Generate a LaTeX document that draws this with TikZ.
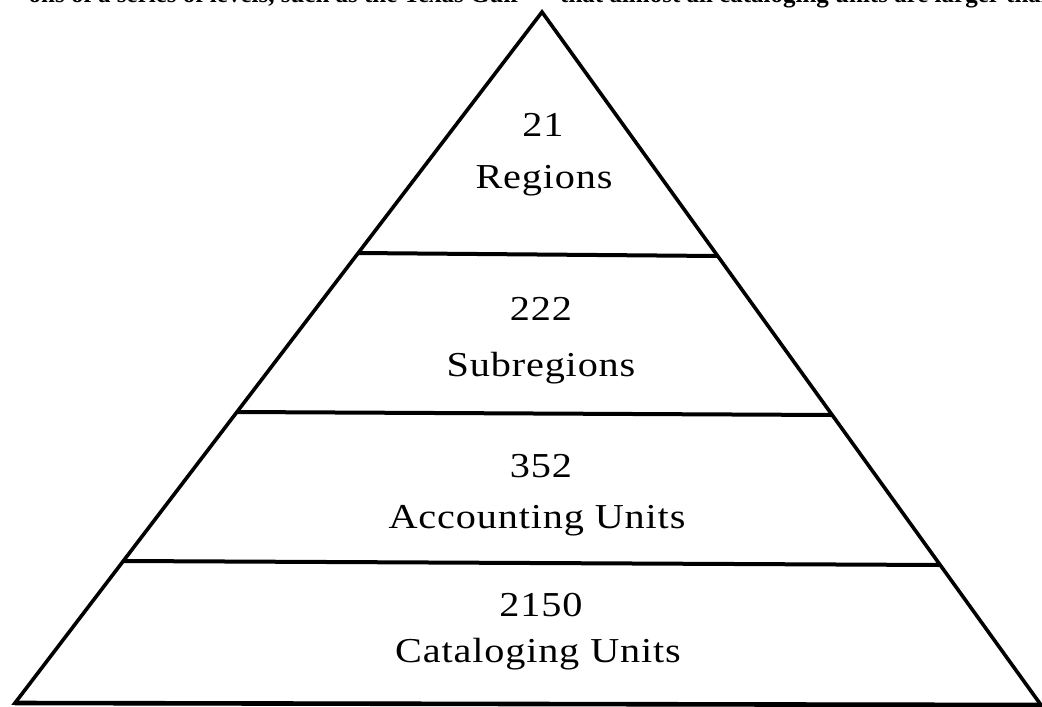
\documentclass[tikz,border=0pt]{standalone}
\usepackage{fontspec}
\setmainfont{Liberation Serif}
\newfontfamily\labfont[FakeStretch=1.15,LetterSpace=2.4]{Liberation Serif}
\usetikzlibrary{calc}
\tikzset{
  edge/.style={line width=3.6pt, line join=miter, line cap=butt},
  tier/.style={line width=4pt},
  lab/.style={inner sep=0pt, anchor=base, font=\labfont\fontsize{35}{42}\selectfont},
  scan/.style={inner sep=0pt, font=\bfseries\fontsize{25}{25}\selectfont}
}
\begin{document}
\begin{tikzpicture}[x=1pt,y=-1pt]
\useasboundingbox (0,0) rectangle (1042,707);
\fill[white] (0,0) rectangle (1042,707);
% clipped line of body text at the top of the scan
\begin{scope}
  \clip (0,0) rectangle (1042,707);
  \node[scan, anchor=base east] (txtleft) at (519,2) {ons of a series of levels, such as the Texas Gulf};
  \node[scan, anchor=base west] (txtright) at (560,2) {that almost all cataloging units are larger than};
\end{scope}
% pyramid corners
\coordinate (A) at (542,12);
\coordinate (BL) at (15,703);
\coordinate (BR) at (1041,705);
% tier end points
\coordinate (L1) at (358,253);
\coordinate (R1) at (717,256);
\coordinate (L2) at (237,412);
\coordinate (R2) at (832,415);
\coordinate (L3) at (124,561);
\coordinate (R3) at (939,565);
\draw[edge] (A) -- (BL) -- (BR) -- cycle;
\draw[tier] (L1) -- (R1);
\draw[tier] (L2) -- (R2);
\draw[tier] (L3) -- (R3);
\draw[line width=4.6pt] (BL) -- (BR);
% labels
\node[lab] (n1) at (543,136) {21};
\node[lab] (t1) at (544,188) {Regions};
\node[lab] (n2) at (541,320) {222};
\node[lab] (t2) at (541,376) {Subregions};
\node[lab] (n3) at (541,477) {352};
\node[lab] (t3) at (537,528) {Accounting Units};
\node[lab] (n4) at (541,616) {2150};
\node[lab] (t4) at (538,662) {Cataloging Units};
\end{tikzpicture}
\end{document}
